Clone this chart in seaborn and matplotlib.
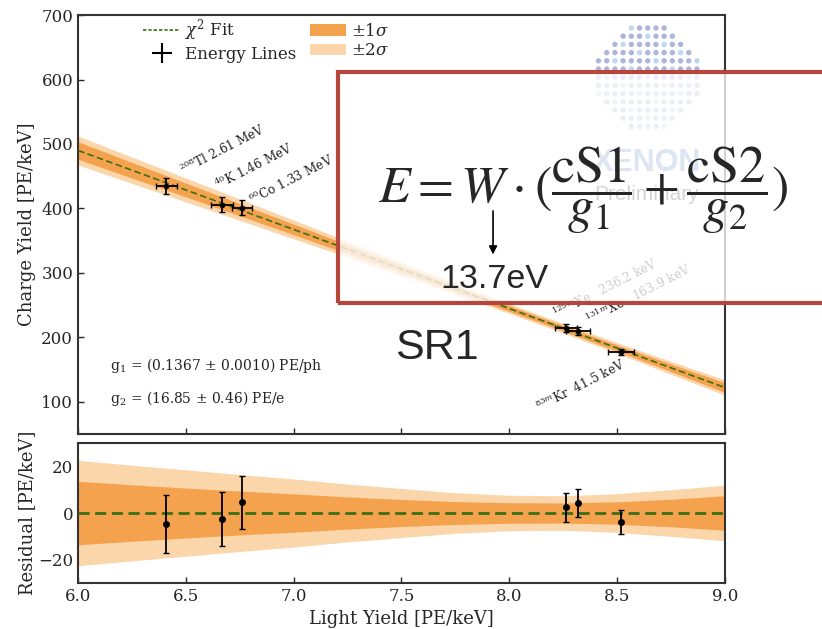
import numpy as np
import matplotlib
matplotlib.use("Agg")
import matplotlib.pyplot as plt
import seaborn as sns
from matplotlib.patches import Patch, Rectangle, FancyArrowPatch
from matplotlib.lines import Line2D

# calibration lines
line_names = [r"$^{208}$Tl 2.61 MeV", r"$^{40}$K 1.46 MeV", r"$^{60}$Co 1.33 MeV",
              r"$^{129m}$Xe   236.2 keV", r"$^{131m}$Xe   163.9 keV", r"$^{83m}$Kr  41.5 keV"]
light_yield = [6.41, 6.667, 6.76, 8.263, 8.32, 8.518]
light_err = [0.048, 0.050, 0.046, 0.053, 0.056, 0.060]
charge_yield = [435.0, 405.8, 401.3, 214.7, 209.6, 177.0]
residual = [-4.7, -2.4, 4.6, 2.4, 4.3, -4.0]
residual_err = [12.4, 11.6, 11.4, 6.1, 6.1, 5.1]

# fit and its bands
band_x = [6.0, 6.25, 6.5, 6.75, 7.0, 7.25, 7.5, 7.75, 8.0, 8.25, 8.5, 8.75, 9.0]
fit_y = [490.0, 459.3, 428.7, 398.0, 367.4, 336.7, 306.0, 275.4, 244.7, 214.1, 183.4, 152.7, 122.1]
band_1sigma = [13.6, 12.1, 10.7, 9.4, 8.2, 6.9, 5.8, 4.9, 4.4, 4.3, 4.8, 5.9, 7.4]
band_2sigma = [22.6, 20.5, 18.5, 16.5, 14.6, 12.4, 10.5, 8.7, 7.6, 7.4, 8.3, 10.0, 11.9]

g1_text = r"g$_1$ = (0.1367 ± 0.0010) PE/ph"
g2_text = r"g$_2$ = (16.85 ± 0.46) PE/e"

c1 = "#f5a24f"
c2 = "#fbd6aa"
cfit = "#3b6f17"

sns.set_theme(style="ticks")
plt.rcParams["font.family"] = ["DejaVu Serif"]
plt.rcParams["mathtext.fontset"] = "dejavuserif"
plt.rcParams["axes.edgecolor"] = "#333333"
plt.rcParams["axes.linewidth"] = 1.5
plt.rcParams["xtick.direction"] = "in"
plt.rcParams["ytick.direction"] = "in"

fig = plt.figure(figsize=(8.22, 6.29), dpi=100)
ax = fig.add_axes([0.0949, 0.310, 0.787, 0.666])
axr = fig.add_axes([0.0949, 0.0731, 0.787, 0.2226], sharex=ax)

bx = np.array(band_x)
fy = np.array(fit_y)
b1 = np.array(band_1sigma)
b2 = np.array(band_2sigma)

# top panel
ax.fill_between(bx, fy - b2, fy + b2, color=c2, lw=0, zorder=1)
ax.fill_between(bx, fy - b1, fy + b1, color=c1, lw=0, zorder=2)
sns.lineplot(x=band_x, y=fit_y, ax=ax, color=cfit, lw=1.2, linestyle=(0, (4, 2)), zorder=3)
ax.errorbar(light_yield, charge_yield, xerr=light_err, yerr=residual_err, fmt="o",
            ms=3, color="black", ecolor="black", elinewidth=1.3, capsize=2.5, zorder=4)

label_pos = [(6.487, 452), (6.65, 429), (6.807, 405.5), (8.215, 228), (8.37, 219), (8.14, 84)]
for name, (lx, ly) in zip(line_names, label_pos):
    ax.text(lx, ly, name, rotation=27, rotation_mode="anchor", ha="left", va="baseline",
            fontsize=8.7, color="#222222")

ax.text(6.148, 150, g1_text, fontsize=10, color="#222222")
ax.text(6.148, 98, g2_text, fontsize=10, color="#222222")

ax.set_xlim(6.0, 9.0)
ax.set_ylim(50, 700)
ax.set_yticks([100, 200, 300, 400, 500, 600, 700])
ax.set_ylabel("Charge Yield [PE/keV]", fontsize=13)
ax.tick_params(labelbottom=False, labelsize=12, length=4, width=1)

handles = [Line2D([], [], color=cfit, lw=1.2, linestyle=(0, (2, 1.2))),
           Line2D([], [], color="black", marker="+", ms=14, mew=1.5, lw=0),
           Patch(color=c1, lw=0), Patch(color=c2, lw=0)]
ax.legend(handles, [r"$\chi^2$ Fit", "Energy Lines", r"$\pm1\sigma$", r"$\pm2\sigma$"],
          ncol=2, loc="upper left", bbox_to_anchor=(0.078, 1.03), frameon=False,
          fontsize=12, handlelength=2.2, labelspacing=0.15, columnspacing=0.8,
          handletextpad=0.3)

# residual panel
axr.fill_between(bx, -b2, b2, color=c2, lw=0, zorder=1)
axr.fill_between(bx, -b1, b1, color=c1, lw=0, zorder=2)
axr.axhline(0, color=cfit, lw=2, linestyle=(0, (4, 2)), zorder=3)
axr.errorbar(light_yield, residual, yerr=residual_err, fmt="o", ms=4, color="black",
             ecolor="black", elinewidth=1.3, capsize=2, zorder=4)
axr.set_ylim(-30, 30)
axr.set_yticks([-20, 0, 20])
axr.set_xticks([6.0, 6.5, 7.0, 7.5, 8.0, 8.5, 9.0])
axr.set_xlabel("Light Yield [PE/keV]", fontsize=13)
axr.set_ylabel("Residual [PE/keV]", fontsize=13)
axr.tick_params(labelsize=12, length=4, width=1)
ax.yaxis.set_label_coords(-0.065, 0.5)
axr.yaxis.set_label_coords(-0.065, 0.5)

# logo dots (decoration)
logo = fig.add_axes([0.718, 0.789, 0.140, 0.1765], zorder=2)
logo.set_xlim(0, 115)
logo.set_ylim(0, 111)
logo.axis("off")
gi, gj = np.meshgrid(np.arange(-7, 8), np.arange(-7, 8))
gx = 57.5 + gi.ravel() * 8.2
gy = 55.5 + gj.ravel() * 8.2
keep = (gx - 57.5) ** 2 + (gy - 55.5) ** 2 <= 52 ** 2
dot_cols = np.where((gi.ravel() + 2 * gj.ravel()) % 5 == 0, "#bcd9f0", "#aeb5dc")
logo.scatter(gx[keep], gy[keep], s=15, c=dot_cols[keep], lw=0)

# overlay box
box = Rectangle((0.411, 0.518), 0.62, 0.3675, transform=fig.transFigure,
                facecolor="white", alpha=0.78, edgecolor="none", zorder=3)
fig.add_artist(box)
edge = Rectangle((0.411, 0.518), 0.62, 0.3675, transform=fig.transFigure,
                 facecolor="none", edgecolor="#b5463c", lw=3, zorder=3.2)
fig.add_artist(edge)

fig.text(0.787, 0.741, "XENON", fontsize=22, fontweight="bold", color="#dde5f2",
         family="Liberation Sans", ha="center", va="center", zorder=3.5)
fig.text(0.787, 0.690, "Preliminary", fontsize=15, color="#d4d4d4",
         family="Liberation Sans", ha="center", va="center", zorder=3.5)

fig.text(0.709, 0.697, r"$E = W\cdot(\dfrac{\mathrm{cS1}}{g_1}+\dfrac{\mathrm{cS2}}{g_2})$",
         fontsize=37.5, math_fontfamily="stix", ha="center", va="center", zorder=4)
fig.add_artist(FancyArrowPatch((0.5998, 0.669), (0.5998, 0.591),
               transform=fig.transFigure, arrowstyle="-|>", mutation_scale=12,
               color="black", lw=1.2, zorder=4))
fig.text(0.601, 0.555, "13.7eV", fontsize=24.5, family="Liberation Sans",
         ha="center", va="center", zorder=4)
fig.text(0.532, 0.447, "SR1", fontsize=31, family="Liberation Sans",
         ha="center", va="center", zorder=4)

fig.savefig("out.png", dpi=100)
